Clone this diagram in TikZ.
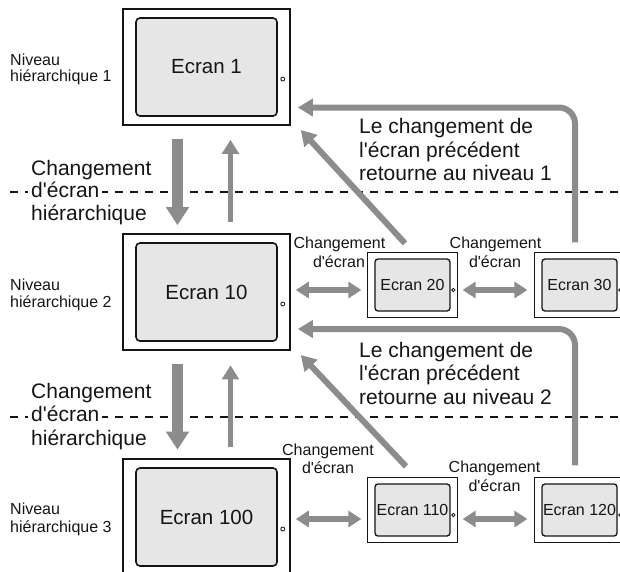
\documentclass[tikz,border=0pt]{standalone}
\usepackage{fontspec}
\setmainfont{Liberation Sans}
\usetikzlibrary{arrows.meta}
\definecolor{arrowgray}{HTML}{8C8C8C}
\definecolor{screenfill}{HTML}{E6E6E6}
\definecolor{ink}{HTML}{151515}
\newcommand{\ap}{\textquotesingle}
\begin{document}
\begin{tikzpicture}[x=1pt,y=-1pt,
  bigscreen/.style={draw=ink, line width=1.6pt, fill=screenfill, rounded corners=4pt,
    minimum width=141pt, minimum height=98pt, inner sep=0pt,
    font=\fontsize{20.5}{24}\selectfont, text=ink},
  smallscreen/.style={draw=ink, line width=1.3pt, fill=screenfill, rounded corners=3pt,
    minimum width=75pt, minimum height=52pt, inner sep=0pt,
    font=\fontsize{16}{19}\selectfont, text=ink},
  frame/.style={draw=ink, line width=1.7pt},
  smallframe/.style={draw=ink, line width=1.2pt},
  knob/.style={draw=ink, line width=0.8pt, fill=white},
  levellabel/.style={anchor=base west, inner sep=0pt, text=ink, font=\fontsize{16}{18}\selectfont},
  biglabel/.style={anchor=base west, inner sep=0pt, text=ink, font=\fontsize{21}{24}\selectfont},
  masked/.style={fill=white, inner ysep=1.5pt, inner xsep=3pt},
  smalllabel/.style={anchor=base, inner sep=0pt, text=ink, font=\fontsize{16}{18}\selectfont},
  separator/.style={draw=ink, line width=2.2pt, dash pattern=on 8pt off 7pt},
  downarrow/.style={draw=arrowgray, line width=11.5pt, -{Triangle[width=22pt,length=18pt]}},
  uparrow/.style={draw=arrowgray, line width=5.7pt, -{Triangle[width=16.5pt,length=14pt]}},
  swaparrow/.style={draw=arrowgray, line width=5.5pt,
    {Triangle[width=16pt,length=13pt]}-{Triangle[width=16pt,length=13pt]}},
  backarrow/.style={draw=arrowgray, line width=6pt, -{Triangle[width=17pt,length=15pt]}}
]
\useasboundingbox (0,0) rectangle (620,571);

% level separators
\coordinate (sepA1) at (10,192);
\coordinate (sepA2) at (622,192);
\coordinate (sepB1) at (10,417);
\coordinate (sepB2) at (622,417);
\draw[separator] (sepA1) -- (sepA2);
\draw[separator] (sepB1) -- (sepB2);

% main screens
\node[bigscreen] (b1)   at (206.5,67)  {Ecran 1};
\node[bigscreen] (b10)  at (206.5,292) {Ecran 10};
\node[bigscreen] (b100) at (206.5,517) {Ecran 100};
\foreach \s in {b1,b10,b100}{
  \draw[frame] ([shift={(-12,-8.5)}]\s.north west) rectangle ([shift={(12,8.5)}]\s.south east);
  \draw[knob] ([shift={(5,12)}]\s.east) circle[radius=2pt];
}

% side screens
\node[smallscreen] (e20)  at (412.5,285) {Ecran 20};
\node[smallscreen] (e30)  at (579.5,285) {Ecran 30};
\node[smallscreen] (e110) at (412.5,510) {Ecran 110};
\node[smallscreen] (e120) at (579.5,510) {Ecran 120};
\foreach \s in {e20,e30,e110,e120}{
  \draw[smallframe] ([shift={(-7,-5.5)}]\s.north west) rectangle ([shift={(7,5.5)}]\s.south east);
  \draw[knob] ([shift={(2.8,5)}]\s.east) circle[radius=1.7pt];
}

% level names
\node[levellabel] (lv1a) at (10,65)  {Niveau};
\node[levellabel] (lv1b) at (10,81)  {hiérarchique 1};
\node[levellabel] (lv2a) at (10,290) {Niveau};
\node[levellabel] (lv2b) at (10,307) {hiérarchique 2};
\node[levellabel] (lv3a) at (10,514) {Niveau};
\node[levellabel] (lv3b) at (10,532) {hiérarchique 3};

% hierarchical change labels
\node[biglabel] (ch1a) at (31,175) {Changement};
\node[biglabel, masked] (ch1b) at (28,197) {d\ap écran};
\node[biglabel] (ch1c) at (31,220) {hiérarchique};
\node[biglabel] (ch2a) at (31,398) {Changement};
\node[biglabel, masked] (ch2b) at (28,421) {d\ap écran};
\node[biglabel] (ch2c) at (31,445) {hiérarchique};

% return labels
\node[biglabel] (rt1a) at (359,133) {Le changement de};
\node[biglabel] (rt1b) at (359,157) {l\ap écran précédent};
\node[biglabel] (rt1c) at (359,180) {retourne au niveau 1};
\node[biglabel] (rt2a) at (359,357) {Le changement de};
\node[biglabel] (rt2b) at (359,380) {l\ap écran précédent};
\node[biglabel] (rt2c) at (359,404) {retourne au niveau 2};

% screen change labels
\node[smalllabel] (sc1a) at (339.5,248) {Changement};
\node[smalllabel] (sc1b) at (339,267)   {d\ap écran};
\node[smalllabel] (sc2a) at (495.5,248) {Changement};
\node[smalllabel] (sc2b) at (495,267)   {d\ap écran};
\node[smalllabel] (sc3a) at (328,455)   {Changement};
\node[smalllabel] (sc3b) at (328,473)   {d\ap écran};
\node[smalllabel] (sc4a) at (494.5,472) {Changement};
\node[smalllabel] (sc4b) at (494.5,491) {d\ap écran};

% hierarchical transitions
\draw[downarrow] ([shift={(-29,22)}]b1.south) -- ([shift={(-29,-17)}]b10.north);
\draw[uparrow]   ([shift={(24,-20)}]b10.north) -- ([shift={(24,23)}]b1.south);
\draw[downarrow] ([shift={(-29,22.5)}]b10.south) -- ([shift={(-29,-17.5)}]b100.north);
\draw[uparrow]   ([shift={(24,-20)}]b100.north) -- ([shift={(24,23.5)}]b10.south);

% screen changes within a level
\draw[swaparrow] ([shift={(18,-2)}]b10.east) -- ([shift={(-13,5)}]e20.west);
\draw[swaparrow] ([shift={(12,5)}]e20.east) -- ([shift={(-14,5)}]e30.west);
\draw[swaparrow] ([shift={(18,2)}]b100.east) -- ([shift={(-13,9)}]e110.west);
\draw[swaparrow] ([shift={(12,9)}]e110.east) -- ([shift={(-14,9)}]e120.west);

% returns to the previous level
\draw[backarrow, rounded corners=16pt] ([shift={(-4.5,-16)}]e30.north) |- ([shift={(20,40.5)}]b1.east);
\draw[backarrow] ([shift={(-7.5,-15)}]e20.north) -- ([shift={(23,63)}]b1.east);
\draw[backarrow, rounded corners=16pt] ([shift={(-4.5,-18)}]e120.north) |- ([shift={(20,37)}]b10.east);
\draw[backarrow] ([shift={(-6.5,-17)}]e110.north) -- ([shift={(23,63)}]b10.east);
\end{tikzpicture}
\end{document}
